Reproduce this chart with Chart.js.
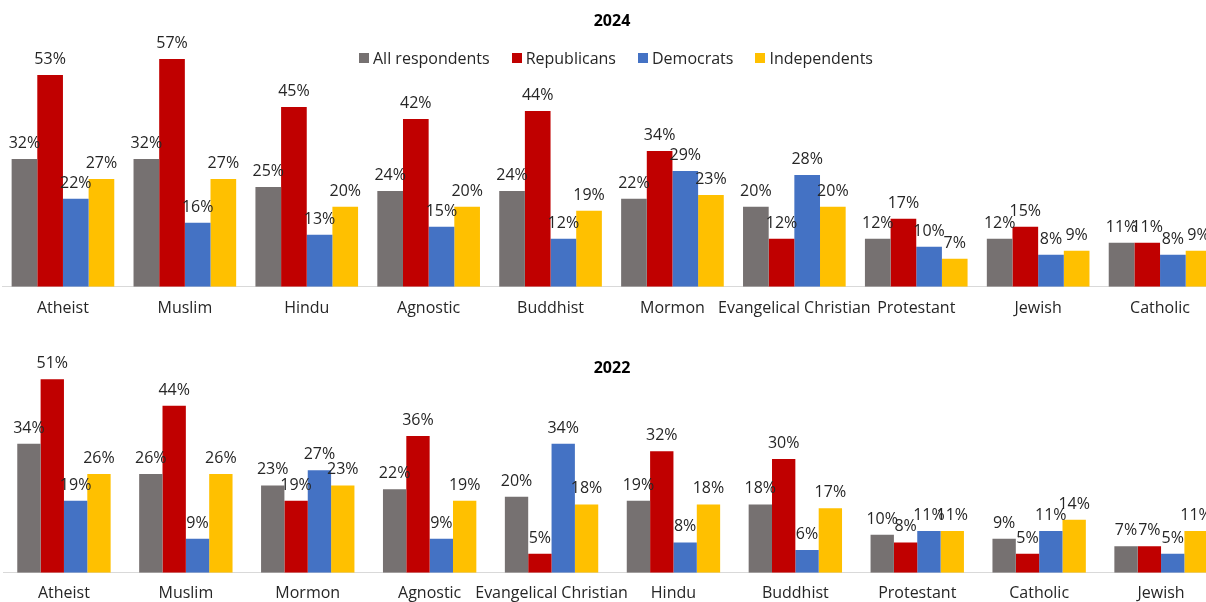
<!DOCTYPE html>
<html lang="en">
<head>
  <meta charset="UTF-8">
  <title>Religion favourability by party - 2024 and 2022</title>
  <script src="https://cdn.jsdelivr.net/npm/chart.js"></script>
  <style>
    body { margin: 0; background: #fff; overflow: hidden; }
    #page { position: relative; width: 1206px; height: 602px; overflow: hidden; font-family: "Open Sans", sans-serif; }
    .box { position: absolute; left: 0; width: 1224px; }
    .title { position: absolute; left: 0; width: 1224px; text-align: center; font-weight: bold; font-size: 16px; color: #000; line-height: 20px; z-index: 2; }
    #legend { position: absolute; top: 48px; left: 0; width: 1232px; display: flex; justify-content: center; font-size: 16px; color: #262626; line-height: 20px; z-index: 2; }
    #legend span.item { display: flex; align-items: center; margin: 0 11px; }
    #legend i { display: inline-block; width: 10px; height: 10px; margin-right: 4px; }
  </style>
</head>
<body>
  <div id="page">
    <div class="title" style="top:10px">2024</div>
    <div id="legend"></div>
    <div class="box" style="top:0; height:333px"><canvas id="chart2024"></canvas></div>
    <div class="title" style="top:357px">2022</div>
    <div class="box" style="top:320px; height:294px"><canvas id="chart2022"></canvas></div>
  </div>

  <script>
    const seriesNames = ['All respondents', 'Republicans', 'Democrats', 'Independents'];
    const seriesColors = ['#767171', '#C00000', '#4472C4', '#FFC000'];

    // 2024 survey
    const groups2024 = ['Atheist', 'Muslim', 'Hindu', 'Agnostic', 'Buddhist', 'Mormon', 'Evangelical Christian', 'Protestant', 'Jewish', 'Catholic'];
    const all2024 = [32, 32, 25, 24, 24, 22, 20, 12, 12, 11];
    const rep2024 = [53, 57, 45, 42, 44, 34, 12, 17, 15, 11];
    const dem2024 = [22, 16, 13, 15, 12, 29, 28, 10, 8, 8];
    const ind2024 = [27, 27, 20, 20, 19, 23, 20, 7, 9, 9];

    // 2022 survey
    const groups2022 = ['Atheist', 'Muslim', 'Mormon', 'Agnostic', 'Evangelical Christian', 'Hindu', 'Buddhist', 'Protestant', 'Catholic', 'Jewish'];
    const all2022 = [34, 26, 23, 22, 20, 19, 18, 10, 9, 7];
    const rep2022 = [51, 44, 19, 36, 5, 32, 30, 8, 5, 7];
    const dem2022 = [19, 9, 27, 9, 34, 8, 6, 11, 11, 5];
    const ind2022 = [26, 26, 23, 19, 18, 18, 17, 11, 14, 11];

    const FONT = '"Open Sans", sans-serif';

    // legend (shared, shown once above the 2024 chart)
    const legendEl = document.getElementById('legend');
    seriesNames.forEach((name, i) => {
      const item = document.createElement('span');
      item.className = 'item';
      item.innerHTML = '<i style="background:' + seriesColors[i] + '"></i>' + name;
      legendEl.appendChild(item);
    });

    // value labels above each bar
    const barLabels = {
      id: 'barLabels',
      afterDatasetsDraw(chart) {
        const ctx = chart.ctx;
        ctx.save();
        ctx.font = '16px ' + FONT;
        ctx.fillStyle = '#262626';
        ctx.textAlign = 'center';
        ctx.textBaseline = 'alphabetic';
        chart.data.datasets.forEach((ds, i) => {
          chart.getDatasetMeta(i).data.forEach((bar, j) => {
            ctx.fillText(ds.data[j] + '%', bar.x, bar.y - 11);
          });
        });
        ctx.restore();
      }
    };

    function makeChart(id, labels, values, catPct, padding, tickPad) {
      new Chart(document.getElementById(id), {
        type: 'bar',
        data: {
          labels: labels,
          datasets: values.map((data, i) => ({
            label: seriesNames[i],
            data: data,
            backgroundColor: seriesColors[i],
            borderWidth: 0,
            barPercentage: 1,
            categoryPercentage: catPct
          }))
        },
        options: {
          responsive: true,
          maintainAspectRatio: false,
          animation: false,
          layout: { padding: padding },
          plugins: {
            legend: { display: false },
            title: { display: false },
            tooltip: { enabled: false }
          },
          scales: {
            x: {
              grid: { display: false, drawTicks: false },
              border: { display: true, color: '#d9d9d9', width: 1 },
              ticks: {
                color: '#262626',
                font: { family: FONT, size: 16 },
                padding: tickPad,
                autoSkip: false,
                maxRotation: 0
              }
            },
            y: { display: false, min: 0, max: 60 }
          }
        },
        plugins: [barLabels]
      });
    }

    makeChart('chart2024', groups2024, [all2024, rep2024, dem2024, ind2024], 0.842,
      { left: 2, right: 3, top: 47, bottom: 3 }, 12);
    makeChart('chart2022', groups2022, [all2022, rep2022, dem2022, ind2022], 0.766,
      { left: 3, right: 2, top: 25, bottom: 0 }, 11);
  </script>
</body>
</html>
